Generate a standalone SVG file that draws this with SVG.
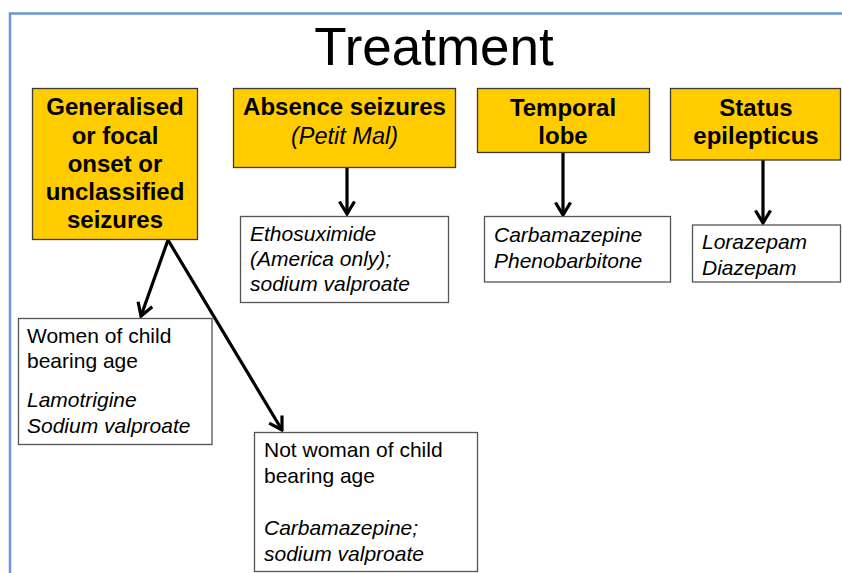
<svg xmlns="http://www.w3.org/2000/svg" width="842" height="573" viewBox="0 0 842 573">
  <style>
    .frame { stroke: #6a97cf; stroke-width: 2.5; fill: none; }
    .title { font-family: "Liberation Sans", Arial, sans-serif; font-size: 53px; fill: #000; text-anchor: middle; }
    .cat rect { fill: #ffcc00; stroke: #3a3a3a; stroke-width: 1.3; }
    .cat text { font-family: "Liberation Sans", Arial, sans-serif; font-size: 24px; font-weight: bold; fill: #000; text-anchor: middle; }
    .cat text.sub { font-size: 23.5px; font-weight: normal; font-style: italic; }
    .drug rect { fill: #fff; stroke: #555; stroke-width: 1.3; }
    .drug text { font-family: "Liberation Sans", Arial, sans-serif; font-size: 21px; fill: #000; }
    .drug text.it { font-style: italic; }
    .edge { stroke: #000; stroke-width: 3.2; fill: none; marker-end: url(#arrow); }
  </style>
  <defs>
    <marker id="arrow" markerUnits="userSpaceOnUse" viewBox="0 0 16 18" markerWidth="16" markerHeight="18" refX="14" refY="9" orient="auto">
      <path d="M1.5,1.5 L14,9 L1.5,16.5" fill="none" stroke="#000" stroke-width="3.2" stroke-linejoin="miter"/>
    </marker>
  </defs>

  <rect width="842" height="573" fill="#fff"/>
  <!-- slide frame -->
  <path class="frame" d="M10,573 L10,13.5 L842,13.5"/>

  <text class="title" x="434" y="65">Treatment</text>

  <!-- connectors -->
  <g id="connectors">
    <line class="edge" x1="347" y1="167" x2="347" y2="214"/>
    <line class="edge" x1="563" y1="153" x2="563" y2="215"/>
    <line class="edge" x1="763" y1="160" x2="763" y2="223"/>
    <line class="edge" x1="168" y1="240" x2="141" y2="316"/>
    <line class="edge" x1="168" y1="240" x2="282" y2="430"/>
  </g>

  <!-- seizure categories -->
  <g id="generalised" class="cat">
    <rect x="32.5" y="88.5" width="165" height="151"/>
    <text x="115" y="115">Generalised</text>
    <text x="115" y="143.5">or focal</text>
    <text x="115" y="172">onset or</text>
    <text x="115" y="200">unclassified</text>
    <text x="115" y="228">seizures</text>
  </g>
  <g id="absence" class="cat">
    <rect x="233.5" y="88.5" width="222" height="79"/>
    <text x="344.5" y="115">Absence seizures</text>
    <text class="sub" x="344.5" y="143.5">(Petit Mal)</text>
  </g>
  <g id="temporal" class="cat">
    <rect x="477.5" y="88.5" width="172" height="64"/>
    <text x="563" y="116">Temporal</text>
    <text x="563" y="143.5">lobe</text>
  </g>
  <g id="status" class="cat">
    <rect x="670.5" y="88.5" width="170" height="71.5"/>
    <text x="756" y="116">Status</text>
    <text x="756" y="143.5">epilepticus</text>
  </g>

  <!-- treatments -->
  <g id="absence-drugs" class="drug">
    <rect x="240.5" y="216.5" width="208" height="86"/>
    <text class="it" x="250" y="241">Ethosuximide</text>
    <text class="it" x="250" y="266">(America only);</text>
    <text class="it" x="250" y="291">sodium valproate</text>
  </g>
  <g id="temporal-drugs" class="drug">
    <rect x="484.5" y="216.5" width="186" height="65.5"/>
    <text class="it" x="494" y="242">Carbamazepine</text>
    <text class="it" x="494" y="267.5">Phenobarbitone</text>
  </g>
  <g id="status-drugs" class="drug">
    <rect x="692.5" y="225" width="148" height="57"/>
    <text class="it" x="702" y="249">Lorazepam</text>
    <text class="it" x="702" y="274.5">Diazepam</text>
  </g>
  <g id="women" class="drug">
    <rect x="18.5" y="318.5" width="193.5" height="126"/>
    <text x="27" y="342.5">Women of child</text>
    <text x="27" y="368">bearing age</text>
    <text class="it" x="27" y="406.5">Lamotrigine</text>
    <text class="it" x="27" y="433">Sodium valproate</text>
  </g>
  <g id="not-women" class="drug">
    <rect x="254.5" y="432.5" width="223" height="139"/>
    <text x="264" y="456.5">Not woman of child</text>
    <text x="264" y="482.5">bearing age</text>
    <text class="it" x="264" y="535">Carbamazepine;</text>
    <text class="it" x="264" y="560.5">sodium valproate</text>
  </g>
</svg>
